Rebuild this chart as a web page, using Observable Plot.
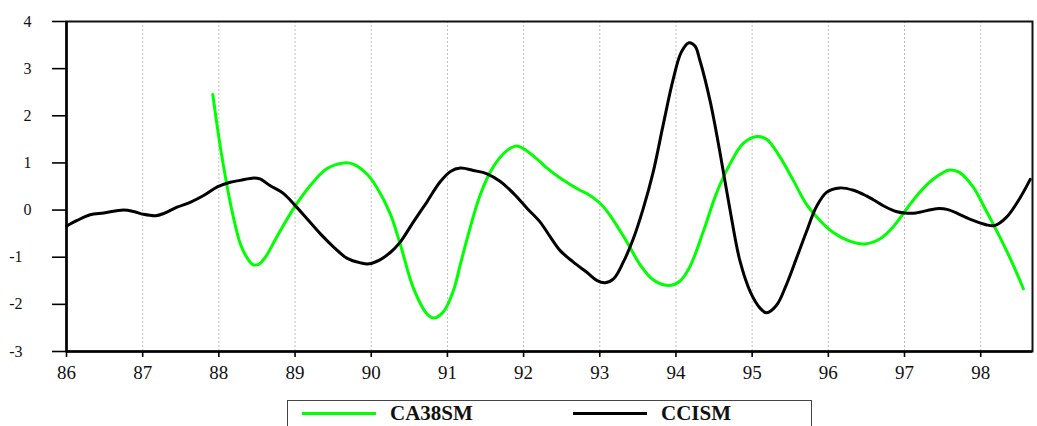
<!DOCTYPE html>
<html>
<head>
<meta charset="utf-8">
<script src="https://cdn.jsdelivr.net/npm/d3@7"></script>
<script src="https://cdn.jsdelivr.net/npm/@observablehq/plot@0.6"></script>
<style>
  html, body { margin: 0; padding: 0; background: #fff; }
  #wrap { position: relative; width: 1037px; height: 426px; overflow: hidden; font-family: "Liberation Serif", "Times New Roman", serif; }
  #chart svg, #chart svg text { font-family: "Liberation Serif", "Times New Roman", serif !important; }
  #legend { position: absolute; left: 287px; top: 400px; width: 525px; height: 40px; border: 1.5px solid #444; box-sizing: border-box; }
  .item { position: absolute; top: 0; height: 25px; display: flex; align-items: center; }
  .swatch { display: inline-block; width: 74px; height: 3px; }
  .lab { font-weight: bold; font-size: 21px; margin-left: 14px; color: #111; line-height: 1; }
</style>
</head>
<body>
<div id="wrap">
  <div id="chart"></div>
  <div id="legend"></div>
</div>
<script>
// ---- data ----
const xTicks = [86, 87, 88, 89, 90, 91, 92, 93, 94, 95, 96, 97, 98];
const yTicks = [-3, -2, -1, 0, 1, 2, 3, 4];
const seriesNames = ["CA38SM", "CCISM"];
const seriesColors = ["#00ff00", "#000000"];

const ccisYears = [86.00, 86.14, 86.31, 86.49, 86.75, 86.88, 87.01, 87.17, 87.28, 87.45, 87.63, 87.80, 87.98,
  88.15, 88.28, 88.46, 88.54, 88.67, 88.85, 89.00, 89.16, 89.33, 89.51, 89.68, 89.86, 89.97,
  90.12, 90.25, 90.38, 90.55, 90.73, 90.90, 91.04, 91.17, 91.34, 91.52, 91.69, 91.87,
  92.05, 92.22, 92.35, 92.48, 92.65, 92.83, 92.96, 93.07, 93.18, 93.31, 93.44, 93.57, 93.70, 93.83, 93.96,
  94.07, 94.17, 94.25, 94.31, 94.45, 94.58, 94.71, 94.84, 94.98, 95.11, 95.19, 95.32, 95.45, 95.58, 95.71, 95.84, 95.98,
  96.15, 96.33, 96.50, 96.59, 96.76, 96.89, 97.00, 97.15, 97.42, 97.57, 97.72, 97.90,
  98.07, 98.18, 98.34, 98.51, 98.65];
const ccisValues = [-0.34, -0.22, -0.10, -0.06, 0.00, -0.03, -0.09, -0.12, -0.07, 0.06, 0.17, 0.31, 0.49,
  0.59, 0.63, 0.68, 0.66, 0.52, 0.35, 0.10, -0.19, -0.50, -0.79, -1.02, -1.12, -1.14,
  -1.05, -0.90, -0.68, -0.26, 0.17, 0.59, 0.82, 0.89, 0.84, 0.77, 0.61, 0.35,
  0.03, -0.26, -0.57, -0.86, -1.10, -1.32, -1.49, -1.54, -1.46, -1.10, -0.61, 0.03, 0.80, 1.79, 2.75,
  3.35, 3.55, 3.48, 3.20, 2.30, 1.20, 0.00, -1.08, -1.75, -2.09, -2.18, -2.02, -1.58, -1.03, -0.47, 0.06, 0.38,
  0.47, 0.42, 0.30, 0.22, 0.06, -0.03, -0.06, -0.06, 0.03, 0.01, -0.09, -0.22,
  -0.31, -0.33, -0.15, 0.24, 0.65];

const ca38Years = [87.92, 88.02, 88.11, 88.19, 88.28, 88.35, 88.44, 88.52, 88.61, 88.76, 88.98,
  89.20, 89.42, 89.64, 89.77, 89.94, 90.07, 90.25, 90.38, 90.55, 90.73, 90.82, 90.95,
  91.08, 91.17, 91.26, 91.43, 91.60, 91.78, 91.91, 92.04, 92.22, 92.30, 92.48, 92.74, 92.83, 93.00,
  93.13, 93.35, 93.53, 93.70, 93.90, 94.05, 94.18, 94.36, 94.53, 94.71, 94.88,
  95.06, 95.19, 95.36, 95.54, 95.71, 95.89, 96.06, 96.28, 96.48, 96.68, 96.85,
  97.03, 97.20, 97.38, 97.59, 97.72, 97.90, 98.07, 98.25, 98.42, 98.56];
const ca38Values = [2.45, 1.33, 0.49, -0.15, -0.71, -0.96, -1.15, -1.15, -1.00, -0.57, 0.03,
  0.52, 0.88, 1.00, 0.97, 0.77, 0.49, -0.08, -0.72, -1.64, -2.20, -2.29, -2.15,
  -1.70, -1.15, -0.60, 0.32, 0.91, 1.26, 1.36, 1.26, 1.02, 0.90, 0.68, 0.42, 0.35, 0.15,
  -0.10, -0.66, -1.16, -1.48, -1.60, -1.51, -1.21, -0.45, 0.35, 0.98, 1.41,
  1.56, 1.50, 1.14, 0.63, 0.13, -0.22, -0.47, -0.66, -0.72, -0.61, -0.36,
  0.03, 0.38, 0.66, 0.85, 0.80, 0.49, -0.01, -0.57, -1.14, -1.67];

// ---- build tables ----
const ccis = ccisYears.map((x, i) => ({x, y: ccisValues[i]}));
const ca38 = ca38Years.map((x, i) => ({x, y: ca38Values[i]}));
const gridYears = xTicks.slice(1);
const yPos = yTicks.filter(d => d >= 0);
const yNeg = yTicks.filter(d => d < 0);
const serif = "Liberation Serif";

const chart = Plot.plot({
  width: 1037,
  height: 382,
  marginLeft: 66,
  marginRight: 5,
  marginTop: 21,
  marginBottom: 31,
  style: {fontFamily: "'Liberation Serif', 'Times New Roman', serif", fontSize: "17px", color: "#000", background: "#fff"},
  x: {domain: [86, 98.68], label: null},
  y: {domain: [-3, 4], label: null},
  marks: [
    Plot.ruleX(gridYears, {stroke: "#bdbdbd", strokeWidth: 1, strokeDasharray: "2,2"}),
    Plot.line(ca38, {x: "x", y: "y", stroke: seriesColors[0], strokeWidth: 3, curve: "catmull-rom"}),
    Plot.line(ccis, {x: "x", y: "y", stroke: seriesColors[1], strokeWidth: 3, curve: "catmull-rom"}),
    Plot.frame({stroke: "#111", strokeWidth: 2}),
    // tick marks (labels drawn separately below)
    Plot.axisY({ticks: yTicks, tickSize: 14, tickFormat: () => "", stroke: "#000", strokeWidth: 1.6, label: null}),
    Plot.axisX({ticks: xTicks, tickSize: 6, tickFormat: () => "", stroke: "#000", strokeWidth: 1.6, label: null}),
    // tick labels: positive labels end ~35px left of the axis, negatives ~44px, as in the reference
    Plot.text(yPos, {y: d => d, text: d => String(d), frameAnchor: "left", textAnchor: "end",
      dx: -35, fontFamily: serif, fontSize: 16, fill: "#111"}),
    Plot.text(yNeg, {y: d => d, text: d => String(d), frameAnchor: "left", textAnchor: "end",
      dx: -44, fontFamily: serif, fontSize: 16, fill: "#111"}),
    Plot.text(xTicks, {x: d => d, text: d => String(d), frameAnchor: "bottom", lineAnchor: "top",
      dy: 14, fontFamily: serif, fontSize: 19, fill: "#111"}),
    Plot.ruleX([86], {strokeWidth: 2.5, stroke: "#000"}),
    Plot.ruleY([-3], {strokeWidth: 2.5, stroke: "#000"})
  ]
});
document.getElementById("chart").appendChild(chart);

// ---- legend ----
const legend = document.getElementById("legend");
const legendLeft = [14, 285];
seriesNames.forEach((name, i) => {
  const item = document.createElement("div");
  item.className = "item";
  item.style.left = legendLeft[i] + "px";
  item.innerHTML = `<span class="swatch" style="background:${seriesColors[i]}"></span><span class="lab">${name}</span>`;
  legend.appendChild(item);
});
</script>
</body>
</html>
